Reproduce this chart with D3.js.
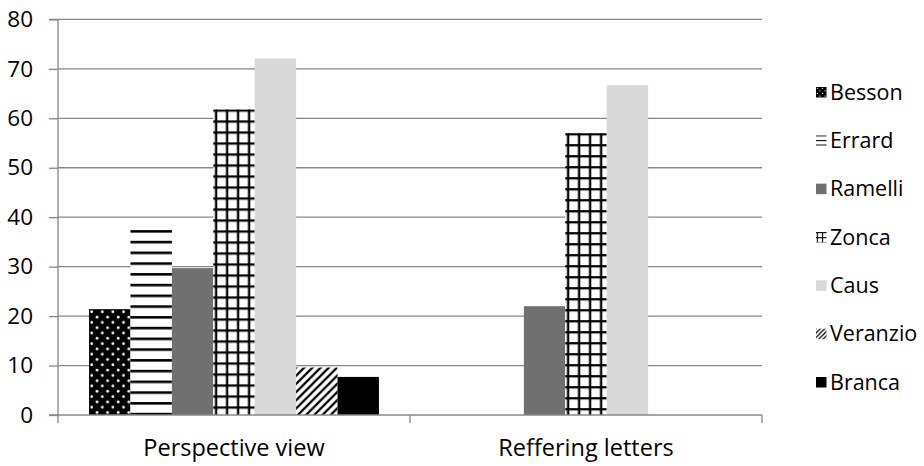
<!DOCTYPE html>
<html><head><meta charset="utf-8">
<script src="https://cdn.jsdelivr.net/npm/d3@7"></script>
<style>body{margin:0;background:#fff;} svg{display:block;font-family:"Open Sans",Lato,sans-serif;}</style>
</head><body>
<svg id="c" width="924" height="466"></svg>
<script>
const categories = ["Perspective view", "Reffering letters"];
const seriesNames = ["Besson", "Errard", "Ramelli", "Zonca", "Caus", "Veranzio", "Branca"];
const besson   = [21.4, null];
const errard   = [37.4, null];
const ramelli  = [29.7, 22.0];
const zonca    = [61.8, 57.0];
const caus     = [72.1, 66.7];
const veranzio = [9.6, null];
const branca   = [7.7, null];
const seriesValues = [besson, errard, ramelli, zonca, caus, veranzio, branca];
const yTicks = [0, 10, 20, 30, 40, 50, 60, 70, 80];

(function(){
const svg = d3.select("#c");
const defs = svg.append("defs");
const kinds = ["dots", "hlines", "#707070", "grid", "#d9d9d9", "diag", "#000"];
let pid = 0;

// builds a pattern anchored at (ox, oy); s = tile size
function makePattern(kind, ox, oy, s) {
  const id = "pat" + (pid++);
  const p = defs.append("pattern").attr("id", id).attr("patternUnits", "userSpaceOnUse")
    .attr("x", ox).attr("y", oy).attr("width", s).attr("height", s);
  p.append("rect").attr("width", s).attr("height", s).attr("fill", kind === "dots" ? "#000" : "#fff");
  if (kind === "dots") {
    const r = s * 0.13;
    p.append("circle").attr("cx", s * 0.25).attr("cy", s * 0.25).attr("r", r).attr("fill", "#fff");
    p.append("circle").attr("cx", s * 0.75).attr("cy", s * 0.75).attr("r", r).attr("fill", "#fff");
  } else if (kind === "hlines") {
    p.append("rect").attr("y", 0).attr("width", s).attr("height", s * 0.24).attr("fill", "#000");
  } else if (kind === "grid") {
    const w = s * 0.21;
    p.append("rect").attr("x", s * 0.15).attr("width", w).attr("height", s).attr("fill", "#000");
    p.append("rect").attr("y", 0).attr("width", s).attr("height", w).attr("fill", "#000");
  } else if (kind === "diag") {
    p.append("path").attr("d", `M0,${s} L${s},0 M${-s/4},${s/4} L${s/4},${-s/4} M${3*s/4},${5*s/4} L${5*s/4},${3*s/4}`)
      .attr("stroke", "#000").attr("stroke-width", s * 0.28);
  }
  return `url(#${id})`;
}
const tileSize = {dots: 10.6, hlines: 10.75, grid: 11, diag: 8.2};
function fillFor(si, ox, oy, legend) {
  const k = kinds[si];
  if (k.startsWith("#")) return k;
  const s = legend ? {dots: 5.2, hlines: 4.6, grid: 5.2, diag: 4.4}[k] : tileSize[k];
  return makePattern(k, ox, oy, s);
}

const mLeft = 58, mRight = 762, mTop = 19.4, mBottom = 415;
const x0 = d3.scaleBand().domain(categories).range([mLeft, mRight]).padding(0);
const x1 = d3.scaleBand().domain(seriesNames).range([0, x0.bandwidth()]).paddingInner(0).paddingOuter(0.75);
const y = d3.scaleLinear().domain([0, 80]).range([mBottom, mTop]);
const axisColor = "#878787";

svg.append("g").selectAll("line").data(yTicks.filter(d => d > 0)).join("line")
  .attr("x1", mLeft).attr("x2", mRight)
  .attr("y1", d => y(d)).attr("y2", d => y(d))
  .attr("stroke", axisColor).attr("stroke-width", 1.3);

const barG = svg.append("g");
seriesNames.forEach((s, si) => {
  barG.append("g").selectAll("rect")
    .data(categories.map((c, ci) => ({c, v: seriesValues[si][ci]})).filter(d => d.v != null))
    .join("rect")
    .attr("x", d => x0(d.c) + x1(s))
    .attr("width", x1.bandwidth())
    .attr("y", d => y(d.v))
    .attr("height", d => mBottom - y(d.v))
    .attr("fill", d => fillFor(si, x0(d.c) + x1(s), y(d.v), false));
});

const yAxis = d3.axisLeft(y).tickValues(yTicks).tickSize(9).tickPadding(16).tickFormat(d3.format("d"));
const gy = svg.append("g").attr("transform", `translate(${mLeft},0)`).call(yAxis);
gy.select(".domain").attr("stroke", axisColor).attr("stroke-width", 1.3).attr("d", `M-9,${mTop}H0V${mBottom}`);
gy.selectAll(".tick line").attr("stroke", axisColor).attr("stroke-width", 1.3);
gy.selectAll(".tick text").attr("fill", "#000").attr("font-size", 22.5).attr("font-family", "'Open Sans', sans-serif");

const gx = svg.append("g").attr("transform", `translate(0,${mBottom})`);
gx.append("line").attr("x1", mLeft - 9).attr("x2", mRight).attr("stroke", axisColor).attr("stroke-width", 1.3);
const bounds = [mLeft, x0(categories[1]), mRight];
gx.selectAll("line.tk").data(bounds).join("line").attr("class","tk")
  .attr("x1", d => d).attr("x2", d => d).attr("y1", 0).attr("y2", 8)
  .attr("stroke", axisColor).attr("stroke-width", 1.3);
gx.selectAll("text").data(categories).join("text")
  .attr("x", d => x0(d) + x0.bandwidth() / 2).attr("y", 41)
  .attr("text-anchor", "middle").attr("font-size", 23.5).attr("fill", "#000")
  .text(d => d);

const lg = svg.append("g");
const ly = d3.scalePoint().domain(seriesNames).range([92, 382]);
seriesNames.forEach((s, si) => {
  const mx = 816, my = ly(s) - 5;
  lg.append("rect").attr("x", mx).attr("y", my).attr("width", 10.5).attr("height", 10.5)
    .attr("fill", fillFor(si, mx, my, true));
  lg.append("text").attr("x", 830).attr("y", ly(s)).attr("dy", "0.36em")
    .attr("font-size", 21.5).attr("fill", "#000").text(s);
});
})();
</script>
</body></html>
